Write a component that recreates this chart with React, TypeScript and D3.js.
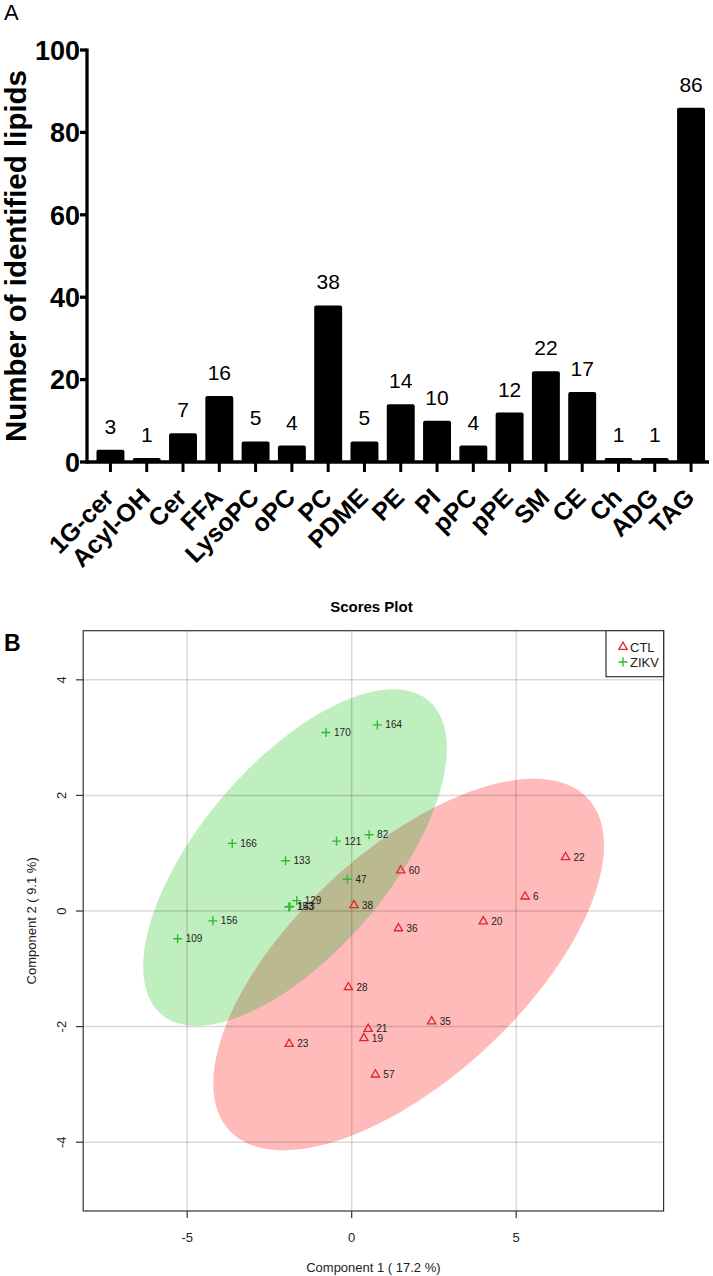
import React, { useEffect, useRef } from 'react';
import * as d3 from 'd3';

const W = 713;
const H = 1276;

// panel A: lipid classes
const lipidClasses = ['1G-cer', 'Acyl-OH', 'Cer', 'FFA', 'LysoPC', 'oPC', 'PC', 'PDME', 'PE', 'PI', 'pPC', 'pPE', 'SM', 'CE', 'Ch', 'ADG', 'TAG'];
const lipidCounts = [3, 1, 7, 16, 5, 4, 38, 5, 14, 10, 4, 12, 22, 17, 1, 1, 86];
const countTicks = [0, 20, 40, 60, 80, 100];

// panel B: PLS-DA scores
const ctlIds = ['6', '19', '20', '21', '22', '23', '28', '35', '36', '38', '57', '60'];
const ctlPc1 = [5.27, 0.37, 4.0, 0.5, 6.5, -1.9, -0.1, 2.43, 1.42, 0.07, 0.72, 1.49];
const ctlPc2 = [0.25, -2.2, -0.18, -2.04, 0.93, -2.3, -1.32, -1.91, -0.3, 0.1, -2.83, 0.7];
const zikvIds = ['47', '82', '109', '121', '129', '133', '143', '153', '156', '164', '166', '170'];
const zikvPc1 = [-0.13, 0.53, -5.29, -0.46, -1.67, -2.01, -1.88, -1.91, -4.22, 0.78, -3.63, -0.78];
const zikvPc2 = [0.55, 1.32, -0.48, 1.21, 0.18, 0.87, 0.08, 0.07, -0.17, 3.22, 1.17, 3.09];
const pc1Ticks = [-5, 0, 5];
const pc2Ticks = [-4, -2, 0, 2, 4];

const RED = '#e3262b';
const GREEN = '#2bbd2b';

// 95% confidence ellipse outline of a group (same idea as the R ellipse)
function confEllipse(xs: number[], ys: number[]) {
  const n = xs.length;
  const mx = d3.mean(xs)!;
  const my = d3.mean(ys)!;
  const sxx = d3.sum(xs, (x) => (x - mx) ** 2) / (n - 1);
  const syy = d3.sum(ys, (y) => (y - my) ** 2) / (n - 1);
  const sxy = d3.sum(xs, (x, i) => (x - mx) * (ys[i] - my)) / (n - 1);
  const t = Math.sqrt(5.991);
  const l11 = Math.sqrt(sxx);
  const l21 = sxy / l11;
  const l22 = Math.sqrt(syy - l21 * l21);
  return d3.range(120).map((i) => {
    const a = (2 * Math.PI * i) / 120;
    return [mx + t * l11 * Math.cos(a), my + t * (l21 * Math.cos(a) + l22 * Math.sin(a))] as [number, number];
  });
}

const App = () => {
  const svgRef = useRef<SVGSVGElement>(null);

  useEffect(() => {
    const svg = d3.select(svgRef.current);
    svg.selectAll('*').remove();

    // ---------------- panel A ----------------
    const x = d3.scaleBand().domain(lipidClasses).range([92.3, 709.2]).paddingInner(0.23).paddingOuter(0.115);
    const y = d3.scaleLinear().domain([0, 100]).range([462, 50]);
    const a = svg.append('g').attr('font-family', '"Liberation Sans", Arial, sans-serif');

    a.append('text').attr('x', 4).attr('y', 20).attr('font-size', 22).text('A');

    a.selectAll('.bar')
      .data(lipidCounts)
      .enter().append('rect')
      .attr('x', (d, i) => x(lipidClasses[i])!)
      .attr('y', (d) => y(d))
      .attr('width', x.bandwidth())
      .attr('height', (d) => y(0) - y(d))
      .attr('rx', 2)
      .attr('fill', '#000');

    a.selectAll('.val')
      .data(lipidCounts)
      .enter().append('text')
      .attr('x', (d, i) => x(lipidClasses[i])! + x.bandwidth() / 2)
      .attr('y', (d) => y(d) - 16)
      .attr('text-anchor', 'middle')
      .attr('font-size', 21)
      .text((d) => d);

    // axes
    a.append('line').attr('x1', 87).attr('x2', 87).attr('y1', y(100) - 1.5).attr('y2', y(0) + 1.6)
      .attr('stroke', '#000').attr('stroke-width', 3.3);
    a.append('line').attr('x1', 85.5).attr('x2', 709).attr('y1', y(0)).attr('y2', y(0))
      .attr('stroke', '#000').attr('stroke-width', 3.3);

    countTicks.forEach((t) => {
      a.append('line').attr('x1', 80).attr('x2', 87).attr('y1', y(t)).attr('y2', y(t))
        .attr('stroke', '#000').attr('stroke-width', 3.3);
      a.append('text').attr('x', 80).attr('y', y(t)).attr('dy', '0.36em')
        .attr('text-anchor', 'end').attr('font-size', 27).attr('font-weight', 'bold').text(t);
    });

    lipidClasses.forEach((c) => {
      const cx = x(c)! + x.bandwidth() / 2;
      a.append('line').attr('x1', cx).attr('x2', cx).attr('y1', y(0)).attr('y2', y(0) + 10)
        .attr('stroke', '#000').attr('stroke-width', 3);
      a.append('text')
        .attr('transform', `translate(${cx + 5},${499}) rotate(-45)`)
        .attr('text-anchor', 'end')
        .attr('font-size', 25)
        .attr('font-weight', 'bold')
        .text(c);
    });

    a.append('text')
      .attr('transform', `translate(26,${(y(0) + y(100)) / 2}) rotate(-90)`)
      .attr('text-anchor', 'middle')
      .attr('font-size', 29.5)
      .attr('font-weight', 'bold')
      .text('Number of identified lipids');

    // ---------------- panel B ----------------
    const sx = d3.scaleLinear().domain([-8.16, 9.48]).range([83.2, 663.6]);
    const sy = d3.scaleLinear().domain([-5.19, 4.85]).range([1211, 630.7]);
    const b = svg.append('g').attr('font-family', '"Liberation Sans", Arial, sans-serif');

    b.append('text').attr('x', sx(0.6)).attr('y', 612).attr('text-anchor', 'middle')
      .attr('font-size', 15).attr('font-weight', 'bold').text('Scores Plot');
    b.append('text').attr('x', 4).attr('y', 651).attr('font-size', 23).attr('font-weight', 'bold').text('B');

    const line = d3.line<[number, number]>().x((d) => sx(d[0])).y((d) => sy(d[1])).curve(d3.curveLinearClosed);
    const greenEll = confEllipse(zikvPc1, zikvPc2);
    const redEll = confEllipse(ctlPc1, ctlPc2);

    svg.append('defs').append('clipPath').attr('id', 'greenClip')
      .append('path').attr('d', line(greenEll)!);

    b.append('path').attr('d', line(greenEll)!).attr('fill', '#bfeebf');
    b.append('path').attr('d', line(redEll)!).attr('fill', '#ffbaba');
    b.append('path').attr('d', line(redEll)!).attr('fill', '#bbb98f').attr('clip-path', 'url(#greenClip)');

    // grid
    pc1Ticks.forEach((t) => {
      b.append('line').attr('x1', sx(t)).attr('x2', sx(t)).attr('y1', sy.range()[1]).attr('y2', sy.range()[0])
        .attr('stroke', 'rgba(0,0,0,0.15)').attr('stroke-width', 1.5);
    });
    pc2Ticks.forEach((t) => {
      b.append('line').attr('x1', sx.range()[0]).attr('x2', sx.range()[1]).attr('y1', sy(t)).attr('y2', sy(t))
        .attr('stroke', 'rgba(0,0,0,0.15)').attr('stroke-width', 1.5);
    });

    // box
    b.append('rect').attr('x', sx.range()[0]).attr('y', sy.range()[1])
      .attr('width', sx.range()[1] - sx.range()[0]).attr('height', sy.range()[0] - sy.range()[1])
      .attr('fill', 'none').attr('stroke', '#333').attr('stroke-width', 1.2);

    // points
    const tri = d3.symbol().type(d3.symbolTriangle).size(30);
    ctlIds.forEach((id, i) => {
      b.append('path').attr('d', tri()!)
        .attr('transform', `translate(${sx(ctlPc1[i])},${sy(ctlPc2[i])})`)
        .attr('fill', 'none').attr('stroke', RED).attr('stroke-width', 1.3);
      b.append('text').attr('x', sx(ctlPc1[i]) + 8).attr('y', sy(ctlPc2[i])).attr('dy', '0.35em')
        .attr('font-size', 10).attr('fill', '#222').text(id);
    });
    zikvIds.forEach((id, i) => {
      b.append('path').attr('d', 'M-4.5,0H4.5M0,-4.5V4.5')
        .attr('transform', `translate(${sx(zikvPc1[i])},${sy(zikvPc2[i])})`)
        .attr('fill', 'none').attr('stroke', GREEN).attr('stroke-width', 1.4);
      b.append('text').attr('x', sx(zikvPc1[i]) + 8).attr('y', sy(zikvPc2[i])).attr('dy', '0.35em')
        .attr('font-size', 10).attr('fill', '#222').text(id);
    });

    // axes ticks and labels
    pc1Ticks.forEach((t) => {
      b.append('line').attr('x1', sx(t)).attr('x2', sx(t)).attr('y1', 1211).attr('y2', 1218)
        .attr('stroke', '#333').attr('stroke-width', 1.2);
      b.append('text').attr('x', sx(t)).attr('y', 1242).attr('text-anchor', 'middle')
        .attr('font-size', 13).attr('fill', '#222').text(t);
    });
    pc2Ticks.forEach((t) => {
      b.append('line').attr('x1', 76).attr('x2', sx.range()[0]).attr('y1', sy(t)).attr('y2', sy(t))
        .attr('stroke', '#333').attr('stroke-width', 1.2);
      b.append('text').attr('transform', `translate(66,${sy(t)}) rotate(-90)`).attr('text-anchor', 'middle')
        .attr('font-size', 13).attr('fill', '#222').text(t);
    });
    b.append('text').attr('x', (sx.range()[0] + sx.range()[1]) / 2).attr('y', 1272).attr('text-anchor', 'middle')
      .attr('font-size', 13).attr('fill', '#222').text('Component 1 ( 17.2 %)');
    b.append('text').attr('transform', `translate(36,${(sy.range()[0] + sy.range()[1]) / 2}) rotate(-90)`)
      .attr('text-anchor', 'middle').attr('font-size', 13).attr('fill', '#222').text('Component 2 ( 9.1 %)');

    // legend
    const lg = b.append('g');
    lg.append('rect').attr('x', 606).attr('y', sy.range()[1]).attr('width', sx.range()[1] - 606).attr('height', 46)
      .attr('fill', '#fff').attr('stroke', '#333').attr('stroke-width', 1.2);
    lg.append('path').attr('d', tri()!).attr('transform', 'translate(623,647)')
      .attr('fill', 'none').attr('stroke', RED).attr('stroke-width', 1.3);
    lg.append('text').attr('x', 630).attr('y', 647).attr('dy', '0.35em').attr('font-size', 13).attr('fill', '#222').text('CTL');
    lg.append('path').attr('d', 'M-4.5,0H4.5M0,-4.5V4.5').attr('transform', 'translate(623,662)')
      .attr('fill', 'none').attr('stroke', GREEN).attr('stroke-width', 1.4);
    lg.append('text').attr('x', 630).attr('y', 662).attr('dy', '0.35em').attr('font-size', 13).attr('fill', '#222').text('ZIKV');
  }, []);

  return <svg ref={svgRef} width={W} height={H} style={{ position: 'absolute', left: 0, top: 0, background: '#fff' }} />;
};

export default App;
